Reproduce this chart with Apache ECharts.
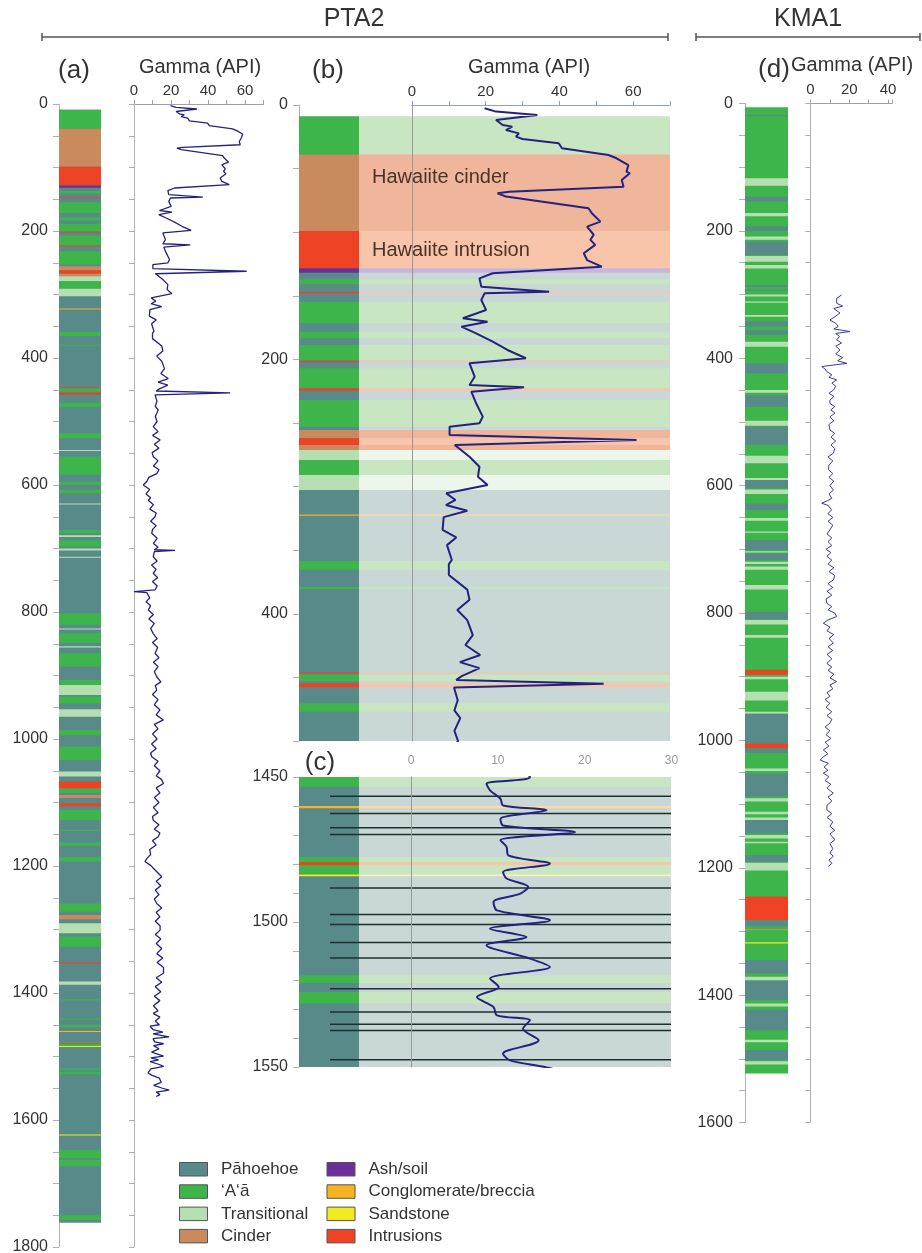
<!DOCTYPE html>
<html>
<head>
<meta charset="utf-8">
<script src="https://cdn.jsdelivr.net/npm/echarts@6/dist/echarts.min.js"></script>
<style>
  html, body { margin: 0; padding: 0; background: #fff; }
  #chart { width: 922px; height: 1253px; }
</style>
</head>
<body>
<div id="chart"></div>
<script>
// lithology classes
const lithoNames = ['Pāhoehoe', '‘A‘ā', 'Transitional', 'Cinder', 'Ash/soil', 'Conglomerate/breccia', 'Sandstone', 'Intrusions']
const lithoColors = ['#588a8a', '#3db54a', '#b6dfb1', '#c98a5e', '#6a2f98', '#f6b21f', '#f1ea1e', '#ee4224']
const lithoBandColors = ['#c9d7d7', '#c8e6c1', '#edf6ea', '#f0b69c', '#c7b5dd', '#f9dca0', '#f8f4b4', '#f8c4aa']

// PTA2 units [top ft, bottom ft, class] - first one is the background
const pta2Litho = [
  [9, 1762, 0],
  [9, 39, 1], [39, 99, 3], [99, 128.4, 7], [128.4, 131.8, 4], [137, 141, 1], [146.8, 148, 7],
  [154.6, 171.6, 1], [178.2, 183.4, 1], [188.7, 200.5, 1], [201.3, 202.3, 7], [207, 222.7, 1],
  [222.7, 224.6, 7], [231.9, 252.9, 1], [255.5, 262, 3], [262, 267.3, 7], [267.3, 271.2, 3],
  [271.2, 279, 2], [279, 290.9, 1], [290.9, 302.7, 2],
  [322, 323, 5], [358.5, 365.4, 1], [379, 380.5, 1], [446, 447, 7], [448, 453, 1], [454.6, 457.8, 7],
  [470.4, 477, 1],
  [518.6, 526.5, 1], [545, 546, 2], [555, 584, 1], [595, 600, 1], [608, 613, 1], [629, 630, 2],
  [671, 676, 1], [679, 682, 2], [687, 697, 1], [700, 703, 2], [713, 714, 2], [802, 820, 1],
  [826, 827, 2], [833.6, 849, 1], [854, 856, 2], [865, 886, 1], [907, 915, 1], [915, 930.7, 2],
  [933, 944, 1], [953, 965, 2], [986, 994, 1], [1012, 1033, 1], [1051, 1059, 2], [1067, 1078, 7],
  [1078, 1085, 1], [1088, 1093, 3], [1101, 1106, 7], [1112, 1128, 1], [1143, 1145, 1],
  [1163, 1168, 1], [1186, 1193, 1], [1259, 1272, 1], [1277, 1284, 3], [1290, 1306, 2],
  [1311, 1327, 1], [1352, 1354, 7], [1382, 1387, 2], [1410, 1412, 1], [1440, 1442, 1],
  [1450, 1453.4, 1], [1460, 1460.8, 5], [1477.6, 1479.3, 1], [1479.3, 1480.4, 7], [1480.4, 1483.5, 1],
  [1483.6, 1484.2, 6], [1518.4, 1521, 1], [1524.1, 1528.1, 1],
  [1623, 1624, 6], [1647, 1660, 1], [1663, 1673, 1], [1750, 1758, 1]
]

// flow boundaries picked in (c)
const pta2Boundaries = [1456.6, 1462.6, 1467.5, 1469.8, 1488.3, 1497.4, 1500.9, 1507.1, 1512.4, 1523, 1531, 1535.3, 1537.4, 1547.5]

// PTA2 gamma [depth ft, API]
const pta2Gamma = [
  [2.6, 19.7], [5.2, 22.8], [7.9, 34], [11.8, 22.8], [15.7, 24.6], [17, 27.2], [19.7, 25.5], [22.3, 29],
  [24.9, 28.2], [26.7, 30], [30.1, 39.8], [34, 40.7], [39.3, 53.3], [41.9, 55.5], [47.2, 58.7], [52.4, 58.2],
  [53.7, 59.1], [59, 56.9], [64.2, 57.4], [68.2, 26.4], [69.4, 23.2], [72, 25.5], [81.2, 47.9], [85.1, 48.8],
  [91.7, 51.1], [95.6, 47.5], [102, 49.3], [106, 48.4], [110, 49.7], [116.6, 46.6], [121.9, 47.5], [127.1, 51.5],
  [132.3, 21.9], [136.3, 18.3], [142.8, 18.8], [146.8, 37.2], [148, 19.7], [153.3, 18.8], [161.2, 20.1],
  [167.7, 13.8], [170.4, 20.5], [174.3, 13.4], [179.5, 17.4], [186.1, 21.9], [192.6, 25.9], [199.1, 30.9],
  [203.1, 15.6], [213.6, 17], [220.1, 15.6], [221.9, 30.4], [225.4, 16.1], [234.5, 17.4], [245, 19.2],
  [250.2, 18.3], [252.9, 10.2], [259.4, 10.2], [263.4, 60.9], [267.3, 11.6], [276.5, 15.6], [284.4, 18.3],
  [292.2, 17.9], [298.7, 20.5], [305.3, 9.3],
  [310.5, 11.8], [314.5, 9.2], [319, 15], [324, 8.6], [334, 8.3], [340, 12], [346, 9.5], [357.7, 10.8],
  [361, 10], [369.5, 10], [381, 15], [389, 15.6], [397, 12.3], [405, 15], [416.7, 16.5], [424.5, 14.5],
  [432.4, 18.5], [438, 13], [442.7, 18.3], [449, 13.5], [452, 12], [455, 52], [458, 11.4], [468, 12.4],
  [476, 11.5], [482, 13.1], [492, 11.5], [500, 12.5],
  [508, 10.4], [516, 13], [522, 10], [529, 14.1], [536, 11], [542, 13.5], [549, 9.8], [555, 10.4],
  [562, 13], [570, 10.5], [576, 13.5], [582, 12.3], [588, 8], [594, 7], [600, 5], [607, 8.5], [614, 6.5],
  [620, 9], [624, 7.7], [631, 10.5], [638, 8.5], [644, 12], [650, 11.4], [657, 9], [664, 12], [670, 10],
  [676, 9.6], [684, 12.5], [692, 10.5], [698, 13], [702, 11], [703, 22.2], [705, 11], [713, 10.4],
  [720, 12.5], [726, 9.5], [733, 12], [739, 10.4], [746, 12.8], [752, 10], [759, 12.5], [765, 11.4],
  [767, 11], [768, 0], [769.5, 6.9], [778, 8.5], [784, 6.5], [790, 9], [797, 7.7], [804, 10.5], [811, 8],
  [818, 11], [826, 9], [834, 10.4], [842, 12.5], [848, 10], [856, 12.8], [865, 11.4], [872, 13.5],
  [879, 10.5], [886, 13], [894, 11], [902, 12.3], [910, 14.5], [916, 11.5], [923, 12.3], [930, 10],
  [938, 13], [946, 11], [954, 14], [962, 12], [970, 15.9], [977, 11], [984, 13], [992, 10], [1000, 12.5],
  [1008, 9.5], [1015, 12], [1022, 9], [1028, 9.6], [1035, 13], [1042, 11], [1050, 14], [1058, 12],
  [1064, 15], [1070, 15.9], [1077, 12], [1085, 14], [1092, 11], [1100, 13.5], [1108, 10.5], [1116, 13],
  [1122, 10], [1128, 10.4], [1135, 13.5], [1142, 11], [1148, 14], [1154, 13.1], [1160, 10], [1167, 12],
  [1174, 8.5], [1182, 9], [1188, 7], [1193, 5.9], [1199, 9], [1205, 11], [1211, 13], [1217, 15],
  [1224, 12], [1231, 14.5], [1238, 11.5], [1245, 13.5], [1252, 11], [1259, 12.3], [1266, 15], [1273, 12],
  [1280, 14], [1287, 11.5], [1294, 14.1], [1301, 14.1], [1308, 11.5], [1315, 14.5], [1322, 12], [1330, 15],
  [1338, 12.3], [1345, 15.5], [1352, 12.5], [1360, 16], [1369, 15.9], [1376, 12], [1383, 15], [1390, 11.5],
  [1398, 14.5], [1405, 11], [1412, 14], [1420, 10.5], [1428, 13], [1432, 10.4], [1438, 14], [1444, 11.5],
  [1450, 13.7], [1452.3, 8.7], [1454.6, 9.1], [1457.5, 10.3], [1459.8, 10.6], [1461.5, 15.6], [1464.4, 10.3],
  [1466.7, 10.6], [1469, 18.9], [1471.8, 10.3], [1474.1, 11], [1477, 11.2], [1479.9, 16], [1482.8, 10.6],
  [1485, 11], [1487.9, 13.5], [1490.2, 12.6], [1493.1, 9.5], [1496, 9.9], [1499.4, 16], [1502.3, 9.1],
  [1505.2, 13.3], [1508, 8.7], [1512.6, 13.7], [1515.5, 16], [1519.5, 9.1], [1522.4, 10.1], [1525.9, 7.6],
  [1529.3, 9.5], [1532.2, 9.9], [1533.9, 13.7], [1536.8, 12.9], [1540.8, 14.7], [1545.4, 10.6],
  [1547.7, 11.4], [1550, 15.4],
  [1553, 19], [1556, 12], [1560, 14], [1563, 12]
]

// KMA1 units [top ft, bottom ft, class] - first one is the background
const kma1Litho = [
  [6, 1523, 1],
  [18, 20, 0], [117.5, 129, 2], [146, 154, 0], [172, 177, 2], [193, 200, 0], [209, 214, 2], [217, 238, 0],
  [239.5, 248.5, 2], [253.5, 259, 2], [285, 288, 0], [292, 294, 0], [300, 303, 2], [311, 313, 2],
  [332, 335, 2], [342, 350, 0], [356, 363, 0], [374, 382, 2], [408, 424, 0], [450, 454, 2], [458, 476, 0],
  [498, 506, 2], [507, 536, 0], [553, 565, 2], [588, 591, 2], [591, 604, 0], [606, 613, 2], [628, 638, 0],
  [651, 655, 2], [672, 674, 2], [685.5, 701, 0], [703, 705, 2], [706.5, 717, 0], [719.5, 723, 2],
  [727, 732, 2], [756, 763, 2], [798, 810, 0], [811, 818, 2], [834.5, 839, 2], [889, 897, 7], [900, 904, 2],
  [923.5, 937.5, 2], [955, 958, 2], [958, 1005, 0], [1005, 1012.5, 7], [1012.5, 1020, 0], [1044, 1048, 2],
  [1052, 1088, 0], [1091, 1096, 2], [1112, 1116, 2], [1121, 1125, 2], [1125, 1146, 0], [1148.5, 1154, 2],
  [1159, 1161.5, 2], [1180, 1190.5, 0], [1192, 1204.5, 2], [1245, 1282, 7], [1282, 1292, 0], [1296, 1298, 3],
  [1317, 1319, 6], [1345, 1366, 0], [1371, 1377, 2], [1377, 1407.5, 0], [1413, 1418, 2], [1423, 1455, 0],
  [1470, 1474, 2], [1486, 1502, 0], [1504, 1509, 2]
]

// KMA1 gamma [depth ft, API]
const kma1Gamma = [
  [300.6, 16], [306, 13.5], [313.7, 13.5], [318, 16.5], [322, 12], [329, 15.2], [335, 12.5], [340, 10],
  [345, 13], [350, 14.3], [354, 12], [358, 20.4], [361, 13], [366, 15], [371, 13.5], [376, 16], [381, 13],
  [387, 15.2], [393, 13], [399, 16.5], [404, 14], [408, 18.7], [413, 5.8], [417, 7.5], [421, 8.4], [426, 11],
  [430, 9.5], [434, 13.5], [439, 11], [444, 13], [450, 11.8], [455, 9.5], [460, 12], [466, 10], [471, 10],
  [476, 12.5], [481, 10.5], [486, 12.6], [492, 10], [498, 12], [504, 9.5], [512.6, 10], [518, 12.5],
  [524, 10.5], [530, 13], [536, 10.5], [542, 12.5], [549, 11.8], [555, 9], [561, 11.5], [568, 9.5],
  [575, 9.2], [581, 11.5], [587, 9.5], [593, 12], [600, 10], [607, 11.8], [613, 9.5], [620, 11], [624, 8.5],
  [627.6, 5.8], [631, 9], [638, 10.9], [644, 9], [650, 11.5], [656, 9], [662, 11.5], [669.5, 10], [676, 8.5],
  [682, 11], [688, 9], [694, 11], [700, 8], [705, 10.5], [711, 8.4], [717, 11], [723, 9], [729, 12],
  [735, 9.5], [741, 12.5], [748, 11.8], [754, 9], [760, 11.5], [766, 8.5], [772, 11], [778, 8], [784.6, 8.4],
  [790, 11], [795, 9], [800, 12.5], [805.6, 13.5], [811, 9], [816, 6.6], [822, 10], [828, 8.5], [834, 12],
  [840, 9.5], [847, 11.8], [853, 9], [859, 11.5], [865, 8.5], [872, 11], [879, 8.4], [885, 11], [890, 9],
  [896, 12], [902, 10], [907.7, 13.5], [913, 10], [919, 11.5], [925, 8.5], [931, 10], [936, 7.5], [942, 10],
  [948, 8], [955, 11], [961, 8.5], [967, 11], [973, 10], [979, 7.5], [985, 10], [991, 8], [997, 10.5],
  [1003, 7.5], [1009, 9.5], [1015, 6.6], [1021, 9], [1026, 6.5], [1031, 5], [1036, 9.2], [1042, 7], [1047, 9],
  [1051.5, 6.6], [1057, 9.5], [1063, 7.5], [1069, 10.5], [1075, 8.5], [1083, 11.8], [1089, 9], [1095, 11],
  [1102, 8.5], [1109, 8.4], [1115, 11], [1121, 8.5], [1128, 11.5], [1135, 10], [1141, 12.5], [1147, 10],
  [1156, 12.6], [1162, 10], [1170, 11.5], [1177, 10], [1182, 11.8], [1188, 9.5], [1193, 11], [1198, 9.2]
]

const FONT = '"Liberation Sans", Arial, Helvetica, sans-serif'
const chart = echarts.init(document.getElementById('chart'))

// draw column (and optional pale band to the right) for each unit
function lithoItem(range, withBand) {
  return function (params, api) {
    const top = Math.max(api.value(0), range[0])
    const bot = Math.min(api.value(1), range[1])
    if (bot <= top) return null
    const cs = params.coordSys
    const y0 = api.coord([0, top])[1]
    const y1 = api.coord([0, bot])[1]
    const h = Math.max(y1 - y0, 1)
    const k = api.value(2)
    const colW = withBand ? 60 : cs.width
    const kids = [{ type: 'rect', shape: { x: cs.x, y: y0, width: colW, height: h }, style: { fill: lithoColors[k] } }]
    if (withBand) {
      kids.push({ type: 'rect', shape: { x: cs.x + colW, y: y0, width: cs.width - colW, height: h }, style: { fill: lithoBandColors[k] } })
    }
    return { type: 'group', children: kids }
  }
}

function depthAxis(grid, min, max, step, labelStep, offset) {
  return {
    gridIndex: grid, type: 'value', inverse: true, min: min, max: max, interval: step, offset: offset,
    axisLine: { show: true, lineStyle: { color: '#b0b0b0', width: 1 } },
    axisTick: { show: true, length: 6, lineStyle: { color: '#b0b0b0' } },
    axisLabel: { show: true, margin: 10, color: '#333', fontSize: 16, fontFamily: FONT,
      formatter: v => (v % labelStep === 0 ? String(v) : '') },
    splitLine: { show: false }
  }
}

function plainDepth(grid, min, max, step, tick, color) {
  return {
    gridIndex: grid, type: 'value', inverse: true, min: min, max: max, interval: step, z: 3,
    axisLine: { show: true, lineStyle: { color: color, width: 1 } },
    axisTick: { show: tick, length: 5, lineStyle: { color: '#b0b0b0' } },
    axisLabel: { show: false },
    splitLine: { show: false }
  }
}

function gammaAxis(grid, max, labelStep, lineColor, labelSize, labelColor, showLine) {
  return {
    gridIndex: grid, type: 'value', position: 'top', min: 0, max: max, interval: 10,
    axisLine: { show: showLine, lineStyle: { color: lineColor, width: 1.2 } },
    axisTick: { show: showLine, length: 4, lineStyle: { color: lineColor } },
    axisLabel: { show: true, margin: showLine ? 6 : 10, color: labelColor, fontSize: labelSize, fontFamily: FONT,
      formatter: v => (v % labelStep === 0 && v < max ? String(v) : (v === max && max % labelStep === 0 ? String(v) : '')) },
    splitLine: { show: false }
  }
}

function hiddenX(grid) {
  return { gridIndex: grid, type: 'value', min: 0, max: 1, show: false, splitLine: { show: false } }
}

const gridBox = (left, top, width, height) => ({ left, top, width, height, containLabel: false, outerBoundsMode: 'none' })

const gammaPairs = rows => rows.map(r => [r[1], r[0]])

// headers, panel tags and legend
const graphics = []
function txt(x, y, s, size, align, color, z) {
  graphics.push({ type: 'text', x: x, y: y, z: z || 10,
    style: { text: s, font: size + 'px ' + FONT, fill: color || '#333', align: align || 'center', verticalAlign: 'middle' } })
}
function bracket(x1, x2, y) {
  graphics.push({ type: 'line', shape: { x1: x1, y1: y, x2: x2, y2: y }, style: { stroke: '#555', lineWidth: 1.5 } })
  graphics.push({ type: 'line', shape: { x1: x1, y1: y - 4, x2: x1, y2: y + 4 }, style: { stroke: '#555', lineWidth: 1.5 } })
  graphics.push({ type: 'line', shape: { x1: x2, y1: y - 4, x2: x2, y2: y + 4 }, style: { stroke: '#555', lineWidth: 1.5 } })
}
txt(354, 19, 'PTA2', 25)
txt(808, 19, 'KMA1', 25)
bracket(42, 668, 37)
bracket(696, 920, 37)
txt(74, 71, '(a)', 26)
txt(328, 71, '(b)', 26)
txt(320, 763, '(c)', 26)
txt(774, 70, '(d)', 26)
txt(200, 67, 'Gamma (API)', 20)
txt(529, 67, 'Gamma (API)', 20)
txt(791, 65, 'Gamma (API)', 20, 'left')
txt(372, 177, 'Hawaiite cinder', 20, 'left', '#4b3328')
txt(372, 250, 'Hawaiite intrusion', 20, 'left', '#4b3328')
lithoNames.forEach((name, i) => {
  const bx = i < 4 ? 179.5 : 327
  const by = 1162.5 + (i % 4) * 22.3
  graphics.push({ type: 'rect', shape: { x: bx, y: by, width: 28, height: 13.5 },
    style: { fill: lithoColors[i], stroke: '#555', lineWidth: 1 } })
  txt(bx + 41.5, by + 7, name, 17, 'left')
})

const option = {
  backgroundColor: '#fff',
  animation: false,
  grid: [
    gridBox(59, 104, 42, 1143),      // (a) column
    gridBox(134, 104, 129.5, 1143),  // (a) gamma
    gridBox(299, 105, 371, 636),     // (b) column + bands
    gridBox(412, 105, 258, 636),     // (b) gamma
    gridBox(299, 777, 372, 290),     // (c) column + bands
    gridBox(411, 777, 260.5, 290),   // (c) gamma
    gridBox(745, 103.5, 43, 1019),   // (d) column
    gridBox(810.5, 103.5, 81.5, 1019) // (d) gamma
  ],
  xAxis: [
    hiddenX(0),
    gammaAxis(1, 70, 20, '#a0a0a0', 15, '#333', true),
    hiddenX(2),
    gammaAxis(3, 70, 20, '#8fa0c4', 15, '#333', true),
    hiddenX(4),
    gammaAxis(5, 30, 10, '#999', 12, '#999', false),
    hiddenX(6),
    gammaAxis(7, 42, 20, '#a0a0a0', 15, '#333', true)
  ],
  yAxis: [
    depthAxis(0, 0, 1800, 50, 200, 1),
    plainDepth(1, 0, 1800, 50, true, '#b0b0b0'),
    depthAxis(2, 0, 500, 50, 200, 1),
    plainDepth(3, 0, 500, 50, false, '#999'),
    depthAxis(4, 1450, 1550, 10, 50, 1),
    plainDepth(5, 1450, 1550, 10, false, '#999'),
    depthAxis(6, 0, 1600, 50, 200, 2),
    plainDepth(7, 0, 1600, 50, true, '#b0b0b0')
  ],
  graphic: { elements: graphics },
  series: [
    { type: 'custom', xAxisIndex: 0, yAxisIndex: 0, z: 1, data: pta2Litho, renderItem: lithoItem([0, 1800], false) },
    { type: 'line', xAxisIndex: 1, yAxisIndex: 1, z: 5, data: gammaPairs(pta2Gamma), showSymbol: false, symbol: 'none',
      lineStyle: { color: '#23237e', width: 1.3 } },
    { type: 'custom', xAxisIndex: 2, yAxisIndex: 2, z: 1, data: pta2Litho, renderItem: lithoItem([0, 500], true) },
    { type: 'line', xAxisIndex: 3, yAxisIndex: 3, z: 5, data: gammaPairs(pta2Gamma), showSymbol: false, symbol: 'none',
      clip: true, lineStyle: { color: '#23237e', width: 2 } },
    { type: 'custom', xAxisIndex: 4, yAxisIndex: 4, z: 1, data: pta2Litho, renderItem: lithoItem([1450, 1550], true) },
    { type: 'custom', xAxisIndex: 4, yAxisIndex: 4, z: 2, data: pta2Boundaries.map(d => [0, d]),
      renderItem: (params, api) => {
        const cs = params.coordSys
        const y = api.coord([0, api.value(1)])[1]
        return { type: 'line', shape: { x1: cs.x + 31, y1: y, x2: cs.x + cs.width, y2: y },
          style: { stroke: '#1d3030', lineWidth: 1.5 } }
      } },
    { type: 'line', xAxisIndex: 5, yAxisIndex: 5, z: 5, data: gammaPairs(pta2Gamma), showSymbol: false, symbol: 'none',
      clip: true, smooth: 0.3, lineStyle: { color: '#23237e', width: 2 } },
    { type: 'custom', xAxisIndex: 6, yAxisIndex: 6, z: 1, data: kma1Litho, renderItem: lithoItem([0, 1600], false) },
    { type: 'line', xAxisIndex: 7, yAxisIndex: 7, z: 5, data: gammaPairs(kma1Gamma), showSymbol: false, symbol: 'none',
      lineStyle: { color: '#3a3aa0', width: 1 } }
  ]
}

chart.setOption(option)
</script>
</body>
</html>
